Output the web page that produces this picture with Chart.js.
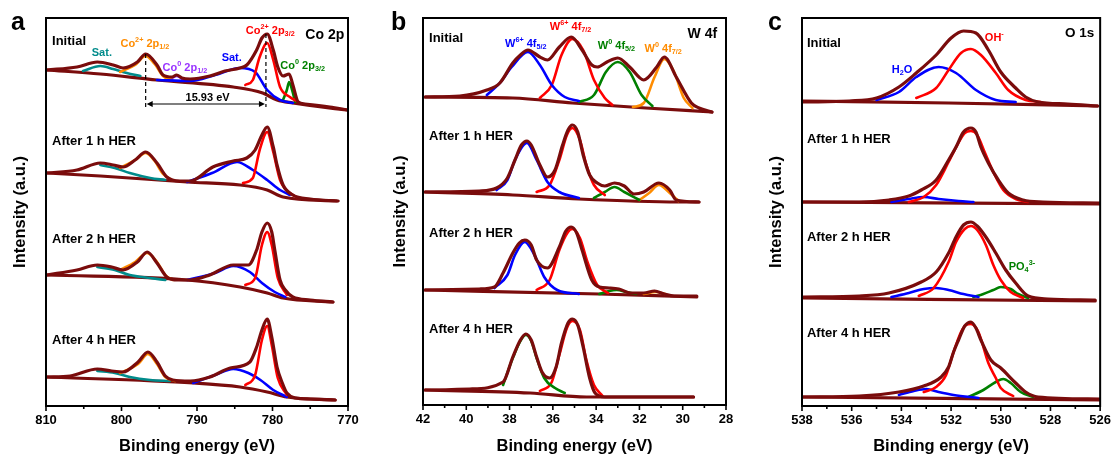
<!DOCTYPE html>
<html><head><meta charset="utf-8">
<script src="https://cdn.jsdelivr.net/npm/chart.js@4.4.0/dist/chart.umd.min.js"></script>
<style>
html,body{margin:0;padding:0;background:#fff;}
body{width:1114px;height:457px;position:relative;overflow:hidden;}
.pan{position:absolute;top:0;height:457px;}
</style></head><body>
<div class="pan" style="left:0;width:375px"><canvas id="ca"></canvas></div>
<div class="pan" style="left:377px;width:375px"><canvas id="cb"></canvas></div>
<div class="pan" style="left:756px;width:362px"><canvas id="cc"></canvas></div>
<script>
// ---------------- DATA: panel a, Co 2p  [binding energy (eV), intensity (a.u.)] ----------------
const coTicks = [810, 800, 790, 780, 770];
const coInitEnv = [[809.9,337],[805.9,340],[803.2,345],[801.1,342],[799.8,339],[797.9,345],[796.8,353],[795.3,342],[794.5,332],[793.3,330],[792.7,332],[792.0,329],[790.9,328],[788.3,331],[786.3,336],[784.3,339],[783.4,342],[782.1,357],[781.4,369],[780.7,373],[779.9,357],[779.3,340],[778.6,331],[777.8,333],[777.3,322],[776.6,305],[775.7,303],[772.4,300],[770.1,297]];
const coInitBg = [[809.9,337],[802.8,333],[795.3,327],[785.2,320],[781.3,314],[779.4,307],[777.3,304],[770.1,297]];
const coInitBlue = [[795.3,327],[790.9,326],[787.6,332],[784.3,339],[782.3,335],[780.7,317],[779.0,307],[777.3,304]];
const coInitRed = [[783.6,322],[782.6,327],[781.7,350],[780.7,364],[779.9,347],[779.0,320],[777.7,310],[776.8,306]];
const coInitGreen = [[778.6,307],[778.1,317],[777.8,325],[777.4,317],[777.0,305]];
const coInitOrange = [[800.2,335],[798.2,342],[796.8,351],[795.6,343],[794.5,331],[793.3,327]];
const coInitTeal = [[805.1,336],[802.8,341],[801.1,338],[799.3,334],[797.5,331]];
const coInitPurple = [[793.6,328],[792.7,331],[791.7,327]];

const co1Env = [[809.9,234],[805.9,237],[802.8,244],[801.1,242],[799.8,240],[798.2,247],[796.8,255],[795.3,244],[794.0,230],[792.3,226],[790.9,226],[787.9,240],[785.2,246],[783.4,249],[782.3,257],[781.4,272],[780.7,280],[779.9,260],[779.4,242],[778.6,222],[777.3,212],[775.0,208],[771.3,206]];
const co1Bg = [[809.9,234],[802.8,231],[791.3,225],[784.3,222],[780.7,217],[778.6,210],[771.5,206]];
const co1Blue = [[791.3,225],[788.0,234],[784.7,245],[782.6,237],[780.7,227],[779.0,217],[777.7,212]];
const co1Red = [[783.9,224],[782.6,229],[781.7,257],[780.7,275],[779.9,255],[779.0,227],[777.7,214],[776.8,210]];
const co1Orange = [[800.2,239],[798.2,247],[796.8,254],[795.6,246],[794.5,233],[793.3,227]];
const co1Teal = [[802.8,242],[800.9,239],[798.9,234],[796.2,229],[794.2,227]];

const co2Env = [[809.9,132],[805.9,137],[803.2,142],[801.3,140],[799.8,137],[797.9,145],[796.6,155],[795.3,144],[794.0,130],[792.5,127],[790.9,127],[788.3,132],[785.2,142],[783.2,142],[782.1,157],[781.4,175],[780.7,184],[780.1,175],[779.7,157],[779.0,127],[778.3,117],[777.3,110],[775.0,107],[772.0,105]];
const co2Bg = [[809.9,132],[791.3,127],[784.3,120],[780.7,114],[778.6,109],[772.0,105]];
const co2Blue = [[791.3,127],[787.6,134],[785.2,141],[783.0,135],[781.4,124],[779.7,115],[778.3,110]];
const co2Red = [[783.6,122],[782.3,129],[781.4,162],[780.7,175],[780.1,162],[779.3,129],[778.1,112]];
const co2Orange = [[800.2,137],[798.2,145],[796.6,154],[795.3,145],[794.2,132],[793.2,127]];
const co2Teal = [[803.2,140],[800.9,137],[798.9,132],[796.2,129],[794.2,127]];

const co4Env = [[809.9,30],[806.8,31],[803.2,38],[801.3,36],[799.8,35],[797.8,45],[796.5,55],[795.3,45],[794.2,31],[793.2,27],[790.9,26],[788.3,30],[785.6,39],[783.0,45],[782.1,60],[781.4,77],[780.7,88],[780.1,70],[779.4,40],[778.7,24],[778.1,14],[777.0,9],[775.0,8],[771.7,7]];
const co4Bg = [[809.9,30],[790.5,24],[784.3,20],[780.7,15],[778.1,10],[771.7,7]];
const co4Blue = [[790.5,24],[787.6,32],[785.2,38],[783.2,34],[781.6,27],[779.9,17],[778.1,10]];
const co4Red = [[783.6,22],[782.3,32],[781.4,67],[780.7,81],[780.1,62],[779.3,29],[778.1,12]];
const co4Orange = [[800.2,34],[797.8,43],[796.5,53],[795.3,43],[794.2,30],[792.9,26]];
const co4Teal = [[803.2,36],[800.9,34],[798.9,30],[796.2,27],[793.6,26]];
const coPeakEnergies = [796.80, 780.87];

// ---------------- DATA: panel b, W 4f ----------------
const wTicks = [42, 40, 38, 36, 34, 32, 30, 28];
const wInitEnv = [[41.9,308],[40.3,309],[39.05,315],[38.45,322],[37.85,342],[37.5,350],[37.15,355],[36.6,348],[36.25,345],[35.7,358],[35.15,368],[34.65,355],[34.2,340],[33.95,338],[33.5,343],[33.0,347],[32.45,338],[31.8,325],[31.2,338],[30.85,348],[30.3,328],[29.6,302],[29.25,297],[28.65,293]];
const wInitBg = [[41.9,308],[37.85,307],[35.1,302],[31.7,297],[28.65,293]];
const wInitBlue = [[39.05,310],[38.45,322],[37.9,338],[37.15,353],[36.6,340],[36.05,320],[35.45,308],[34.8,304]];
const wInitRed = [[36.6,307],[36.05,320],[35.6,350],[35.1,366],[34.6,355],[34.1,325],[33.6,307],[33.25,300]];
const wInitGreen = [[34.8,303],[34.1,310],[33.55,333],[33.0,343],[32.45,333],[31.9,310],[31.4,299]];
const wInitOrange = [[32.3,298],[31.8,302],[31.3,328],[30.85,346],[30.4,333],[29.95,307],[29.55,297]];

const w1Env = [[41.9,213],[39.4,214],[38.6,217],[38.1,227],[37.75,245],[37.45,260],[37.2,264],[37.0,260],[36.6,240],[36.25,228],[35.9,235],[35.55,260],[35.3,275],[35.1,280],[34.85,273],[34.6,250],[34.3,230],[33.95,222],[33.6,219],[33.15,222],[32.7,219],[32.25,211],[31.8,213],[31.1,222],[30.6,215],[30.3,205],[29.25,203]];
const w1Bg = [[41.9,213],[37.85,210],[34.8,206],[30.2,203],[29.25,203]];
const w1Blue = [[38.6,215],[38.1,225],[37.75,245],[37.2,262],[36.75,245],[36.25,223],[35.7,213],[34.8,207]];
const w1Red = [[36.75,213],[36.15,220],[35.7,245],[35.35,270],[35.1,277],[34.75,265],[34.45,240],[34.1,220],[33.6,210]];
const w1Green = [[34.1,207],[33.6,213],[33.15,218],[32.7,213],[32.0,205]];
const w1Orange = [[32.0,205],[31.55,212],[31.1,220],[30.6,212],[30.2,204]];

const w2Env = [[41.9,115],[39.4,116],[38.7,118],[38.3,132],[37.85,152],[37.55,162],[37.3,165],[37.0,160],[36.75,145],[36.25,137],[35.7,158],[35.4,174],[35.15,178],[34.9,172],[34.65,155],[34.2,125],[33.85,118],[33.4,117],[32.95,116],[32.4,112],[31.8,112],[31.3,114],[30.85,111],[30.4,109],[29.35,109]];
const w2Bg = [[41.9,115],[33.85,111],[29.35,108]];
const w2Blue = [[38.7,117],[38.1,130],[37.75,150],[37.3,163],[36.85,150],[36.4,128],[35.8,115],[34.8,111]];
const w2Red = [[36.75,115],[36.15,125],[35.7,155],[35.3,173],[35.1,176],[34.75,167],[34.4,143],[33.95,120],[33.45,112]];
const w2Green = [[33.85,111],[33.4,114],[33.05,115],[32.6,113],[32.15,111]];
const w2Orange = [[31.8,111],[31.25,113],[30.8,111]];

const w4Env = [[41.9,15],[39.85,16],[38.3,23],[37.85,48],[37.5,65],[37.25,71],[37.0,65],[36.75,48],[36.5,33],[36.15,27],[35.85,38],[35.6,62],[35.3,82],[35.1,86],[34.85,80],[34.6,58],[34.3,27],[34.05,12],[33.6,8],[32.0,8],[29.5,8]];
const w4Bg = [[41.9,15],[37.05,12],[34.45,8],[29.5,8]];
const w4Green = [[38.3,20],[37.85,47],[37.5,64],[37.25,70],[37.0,64],[36.75,47],[36.4,27],[35.9,17],[35.45,12]];
const w4Red = [[36.6,14],[36.05,23],[35.7,50],[35.35,77],[35.1,84],[34.75,75],[34.45,45],[34.1,20],[33.7,9]];

// ---------------- DATA: panel c, O 1s ----------------
const oTicks = [538, 536, 534, 532, 530, 528, 526];
const oInitEnv = [[537.95,304],[536.1,305],[535.0,308],[534.1,319],[533.4,333],[532.6,351],[532.0,368],[531.5,375],[531.0,373],[530.5,356],[530.0,334],[529.4,318],[529.0,309],[528.5,304],[527.3,302],[526.1,300]];
const oInitBg = [[537.95,305],[532.1,303],[526.1,300]];
const oInitBlue = [[535.0,306],[534.1,314],[533.4,329],[532.5,339],[531.8,333],[531.0,316],[530.2,306],[529.4,304]];
const oInitRed = [[533.4,308],[532.6,318],[532.1,336],[531.6,353],[531.2,357],[530.8,351],[530.2,333],[529.7,316],[529.0,306],[528.4,304]];

const o1Env = [[537.95,204],[535.7,204],[534.5,206],[533.7,210],[533.2,216],[532.6,226],[532.1,246],[531.8,259],[531.5,274],[531.2,278],[531.0,274],[530.8,259],[530.5,243],[530.1,226],[529.7,213],[529.1,206],[528.3,204],[526.0,203]];
const o1Bg = [[537.95,204],[526.0,202]];
const o1Red = [[533.7,204],[533.1,209],[532.6,221],[532.1,244],[531.75,261],[531.45,273],[531.2,275],[530.95,271],[530.65,254],[530.3,234],[529.9,216],[529.4,207],[528.9,204]];
const o1Blue = [[534.4,204],[533.7,207],[533.1,209],[532.5,207],[531.7,205],[531.1,204]];

const o2Env = [[537.95,109],[535.7,110],[534.5,113],[533.2,124],[532.6,134],[532.1,153],[531.8,169],[531.5,181],[531.2,184],[530.95,180],[530.6,169],[530.2,153],[529.8,136],[529.4,123],[528.9,110],[528.1,107],[526.2,106]];
const o2Bg = [[537.95,108],[526.2,105]];
const o2Red = [[533.3,110],[532.7,118],[532.1,144],[531.8,164],[531.45,177],[531.2,180],[530.95,176],[530.6,161],[530.3,141],[530.0,126],[529.6,114],[529.1,108]];
const o2Blue = [[534.4,109],[533.7,113],[533.1,117],[532.6,118],[532.1,116],[531.5,112],[530.9,109]];
const o2Green = [[531.1,109],[530.7,112],[530.3,116],[530.0,119],[529.6,117],[529.3,112],[528.9,108]];

const o4Env = [[537.95,9],[535.7,10],[534.1,14],[533.1,20],[532.4,29],[532.1,39],[531.9,54],[531.7,66],[531.45,80],[531.2,84],[531.0,78],[530.8,66],[530.4,46],[530.0,38],[529.4,23],[529.0,14],[528.5,9],[526.0,7]];
const o4Bg = [[537.95,9],[526.0,6]];
const o4Red = [[533.1,14],[532.6,19],[532.2,31],[531.9,54],[531.6,74],[531.4,81],[531.2,82],[530.9,74],[530.5,43],[530.2,28],[530.0,18],[529.5,10]];
const o4Blue = [[534.1,11],[533.5,15],[533.0,17],[532.5,14],[531.9,11],[530.9,8]];
const o4Green = [[531.3,9],[530.7,16],[530.2,24],[529.9,27],[529.6,23],[529.2,14],[528.7,9]];

// ---------------- STYLE / RENDERING ----------------
const FONT = '"Liberation Sans", Arial, Helvetica, sans-serif';
const C = {env:'#7a0c0c', red:'#ff0000', blue:'#0000ff', green:'#008000', orange:'#ff8c00', teal:'#008b8b', purple:'#9933ff'};

function ds(data, color, width, order) {
  return {data: data.map(([x, y]) => ({x, y})), borderColor: color, borderWidth: width, order,
    pointRadius: 0, fill: false, cubicInterpolationMode: 'monotone', borderJoinStyle: 'round', borderCapStyle: 'round'};
}
function spectrum(env, bg, comps) {
  const out = [ds(env, C.env, 3.2, 0), ds(bg, C.env, 3.2, 3)];
  comps.forEach(([d, c]) => out.push(ds(d, c, 2.6, 1)));
  return out;
}
function drawRich(ctx, parts, x, y, size, color, align) {
  const segs = parts.map(([t, k]) => {
    const s = k ? size * 0.66 : size;
    ctx.font = `bold ${s}px ${FONT}`;
    return {t, k, s, w: ctx.measureText(t).width};
  });
  const total = segs.reduce((a, b) => a + b.w, 0);
  let cx = align === 'left' ? x : align === 'right' ? x - total : x - total / 2;
  const base = y + size * 0.35;
  ctx.fillStyle = color; ctx.textAlign = 'left'; ctx.textBaseline = 'alphabetic';
  for (const s of segs) {
    ctx.font = `bold ${s.s}px ${FONT}`;
    const dy = s.k === 'sup' ? -size * 0.4 : s.k === 'sub' ? size * 0.22 : 0;
    ctx.fillText(s.t, cx, base + dy);
    cx += s.w;
  }
}
const decorPlugin = {
  id: 'xpsDecor',
  afterDraw(chart, args, o) {
    const {ctx, chartArea: ca, scales: {x, y}} = chart;
    ctx.save();
    // frame
    ctx.strokeStyle = '#000'; ctx.lineWidth = 2;
    ctx.strokeRect(ca.left, ca.top, ca.right - ca.left, ca.bottom - ca.top);
    // outward tick marks (major + minor)
    ctx.lineWidth = 1.6;
    const n = Math.round((o.max - o.min) / o.minor);
    for (let i = 0; i <= n; i++) {
      const v = o.min + i * o.minor;
      const major = Math.abs(((v - o.min) / o.major) - Math.round((v - o.min) / o.major)) < 1e-6;
      const px = x.getPixelForValue(v);
      ctx.beginPath(); ctx.moveTo(px, ca.bottom); ctx.lineTo(px, ca.bottom + (major ? 5 : 3)); ctx.stroke();
    }
    // dashed peak markers and arrow
    if (o.dashes) {
      ctx.setLineDash([4, 3]); ctx.lineWidth = 1.2;
      o.dashes.forEach(d => {
        const px = x.getPixelForValue(d.x);
        ctx.beginPath(); ctx.moveTo(px, y.getPixelForValue(d.y1)); ctx.lineTo(px, y.getPixelForValue(d.y2)); ctx.stroke();
      });
      ctx.setLineDash([]);
    }
    if (o.arrow) {
      const a = o.arrow, x1 = x.getPixelForValue(a.x1) + 1, x2 = x.getPixelForValue(a.x2) - 1, py = y.getPixelForValue(a.y);
      ctx.lineWidth = 1.2; ctx.fillStyle = '#000';
      ctx.beginPath(); ctx.moveTo(x1 + 4, py); ctx.lineTo(x2 - 4, py); ctx.stroke();
      ctx.beginPath(); ctx.moveTo(x1, py); ctx.lineTo(x1 + 6, py - 3); ctx.lineTo(x1 + 6, py + 3); ctx.closePath(); ctx.fill();
      ctx.beginPath(); ctx.moveTo(x2, py); ctx.lineTo(x2 - 6, py - 3); ctx.lineTo(x2 - 6, py + 3); ctx.closePath(); ctx.fill();
    }
    // text labels
    (o.labels || []).forEach(l => drawRich(ctx, l.p, x.getPixelForValue(l.x), y.getPixelForValue(l.y), l.s, l.c || '#000', l.a || 'center'));
    // panel letter
    ctx.font = `bold 25px ${FONT}`; ctx.fillStyle = '#000'; ctx.textAlign = 'left'; ctx.textBaseline = 'alphabetic';
    ctx.fillText(o.letter.t, o.letter.x, o.letter.y);
    ctx.restore();
  }
};

function makeChart(id, cfg) {
  new Chart(document.getElementById(id), {
    type: 'line',
    data: {datasets: cfg.datasets},
    options: {
      responsive: true, maintainAspectRatio: false, animation: false, events: [],
      parsing: false,
      layout: {padding: {top: 18, right: cfg.padRight, left: 0, bottom: 0}},
      plugins: {legend: {display: false}, tooltip: {enabled: false}, xpsDecor: cfg.decor},
      scales: {
        x: {type: 'linear', reverse: true, min: Math.min(...cfg.ticks), max: Math.max(...cfg.ticks),
          afterBuildTicks: s => { s.ticks = cfg.ticks.map(v => ({value: v})); },
          ticks: {color: '#000', font: {family: FONT, size: 13, weight: 'bold'}, padding: 7, maxRotation: 0, autoSkip: false},
          grid: {display: false, drawTicks: false}, border: {display: false},
          title: {display: true, text: 'Binding energy (eV)', color: '#000', font: {family: FONT, size: 16.5, weight: 'bold'}, padding: {top: 0, bottom: 1}},
          afterFit: s => { s.height = cfg.xHeight; }},
        y: {min: cfg.yMin, max: cfg.yMax, ticks: {display: false}, grid: {display: false, drawTicks: false}, border: {display: false},
          title: {display: true, text: 'Intensity (a.u.)', color: '#000', font: {family: FONT, size: 16.5, weight: 'bold'}, padding: {top: cfg.yPad, bottom: 0}},
          afterFit: s => { s.width = 46; }}
      }
    },
    plugins: [decorPlugin]
  });
}

const sub = (a, b, c, d) => [[a, ''], [b, 'sup'], [c, ''], [d, 'sub']];

makeChart('ca', {
  ticks: coTicks, padRight: 27, xHeight: 51, yMin: 1, yMax: 389, yPad: 11,
  datasets: [
    ...spectrum(coInitEnv, coInitBg, [[coInitRed, C.red], [coInitBlue, C.blue], [coInitGreen, C.green], [coInitOrange, C.orange], [coInitTeal, C.teal], [coInitPurple, C.purple]]),
    ...spectrum(co1Env, co1Bg, [[co1Red, C.red], [co1Blue, C.blue], [co1Orange, C.orange], [co1Teal, C.teal]]),
    ...spectrum(co2Env, co2Bg, [[co2Red, C.red], [co2Blue, C.blue], [co2Orange, C.orange], [co2Teal, C.teal]]),
    ...spectrum(co4Env, co4Bg, [[co4Red, C.red], [co4Blue, C.blue], [co4Orange, C.orange], [co4Teal, C.teal]])
  ],
  decor: {min: 770, max: 810, major: 10, minor: 5, letter: {t: 'a', x: 11, y: 30},
    dashes: [{x: coPeakEnergies[0], y1: 353, y2: 297}, {x: coPeakEnergies[1], y1: 373, y2: 300}],
    arrow: {x1: coPeakEnergies[0], x2: coPeakEnergies[1], y: 303},
    labels: [
      {p: [['Initial', '']], x: 809.2, y: 367, s: 13, a: 'left'},
      {p: [['Co 2p', '']], x: 770.5, y: 373, s: 14, a: 'right'},
      {p: [['After 1 h HER', '']], x: 809.2, y: 267, s: 13, a: 'left'},
      {p: [['After 2 h HER', '']], x: 809.2, y: 169, s: 13, a: 'left'},
      {p: [['After 4 h HER', '']], x: 809.2, y: 68, s: 13, a: 'left'},
      {p: [['Sat.', '']], x: 802.6, y: 355, s: 11, c: C.teal},
      {p: sub('Co', '2+', ' 2p', '1/2'), x: 796.9, y: 364, s: 11, c: C.orange},
      {p: sub('Co', '0', ' 2p', '1/2'), x: 791.6, y: 340, s: 11, c: C.purple},
      {p: [['Sat.', '']], x: 785.4, y: 350, s: 11, c: C.blue},
      {p: sub('Co', '2+', ' 2p', '3/2'), x: 780.3, y: 377, s: 11, c: C.red},
      {p: sub('Co', '0', ' 2p', '3/2'), x: 776.0, y: 342, s: 11, c: C.green},
      {p: [[(coPeakEnergies[0] - coPeakEnergies[1]).toFixed(2) + ' eV', '']], x: 788.6, y: 310, s: 11}
    ]}
});

makeChart('cb', {
  ticks: wTicks, padRight: 26, xHeight: 52, yMin: 0, yMax: 387, yPad: 14,
  datasets: [
    ...spectrum(wInitEnv, wInitBg, [[wInitBlue, C.blue], [wInitRed, C.red], [wInitGreen, C.green], [wInitOrange, C.orange]]),
    ...spectrum(w1Env, w1Bg, [[w1Blue, C.blue], [w1Red, C.red], [w1Green, C.green], [w1Orange, C.orange]]),
    ...spectrum(w2Env, w2Bg, [[w2Blue, C.blue], [w2Red, C.red], [w2Green, C.green], [w2Orange, C.orange]]),
    ...spectrum(w4Env, w4Bg, [[w4Green, C.green], [w4Red, C.red]])
  ],
  decor: {min: 28, max: 42, major: 2, minor: 1, letter: {t: 'b', x: 14, y: 30},
    labels: [
      {p: [['Initial', '']], x: 41.72, y: 368, s: 13, a: 'left'},
      {p: [['W 4f', '']], x: 28.41, y: 372, s: 14, a: 'right'},
      {p: [['After 1 h HER', '']], x: 41.72, y: 270, s: 13, a: 'left'},
      {p: [['After 2 h HER', '']], x: 41.72, y: 173, s: 13, a: 'left'},
      {p: [['After 4 h HER', '']], x: 41.72, y: 77, s: 13, a: 'left'},
      {p: sub('W', '6+', ' 4f', '5/2'), x: 37.25, y: 362, s: 11, c: C.blue},
      {p: sub('W', '6+', ' 4f', '7/2'), x: 35.18, y: 379, s: 11, c: C.red},
      {p: sub('W', '0', ' 4f', '5/2'), x: 33.06, y: 360, s: 11, c: C.green},
      {p: sub('W', '0', ' 4f', '7/2'), x: 30.9, y: 357, s: 11, c: C.orange}
    ]}
});

makeChart('cc', {
  ticks: oTicks, padRight: 14, xHeight: 51, yMin: 0, yMax: 388, yPad: 11,
  datasets: [
    ...spectrum(oInitEnv, oInitBg, [[oInitRed, C.red], [oInitBlue, C.blue]]),
    ...spectrum(o1Env, o1Bg, [[o1Red, C.red], [o1Blue, C.blue]]),
    ...spectrum(o2Env, o2Bg, [[o2Red, C.red], [o2Blue, C.blue], [o2Green, C.green]]),
    ...spectrum(o4Env, o4Bg, [[o4Red, C.red], [o4Blue, C.blue], [o4Green, C.green]])
  ],
  decor: {min: 526, max: 538, major: 2, minor: 1, letter: {t: 'c', x: 12, y: 30},
    labels: [
      {p: [['Initial', '']], x: 537.8, y: 364, s: 13, a: 'left'},
      {p: [['O 1s', '']], x: 526.24, y: 374, s: 13.5, a: 'right'},
      {p: [['OH', ''], ['-', 'sup']], x: 530.26, y: 369, s: 11, c: C.red},
      {p: [['H', ''], ['2', 'sub'], ['O', '']], x: 533.97, y: 337, s: 11, c: C.blue},
      {p: [['After 1 h HER', '']], x: 537.8, y: 268, s: 13, a: 'left'},
      {p: [['After 2 h HER', '']], x: 537.8, y: 170, s: 13, a: 'left'},
      {p: [['PO', ''], ['4', 'sub'], ['3-', 'sup']], x: 529.15, y: 140, s: 11, c: C.green},
      {p: [['After 4 h HER', '']], x: 537.8, y: 74, s: 13, a: 'left'}
    ]}
});
</script>
</body></html>
